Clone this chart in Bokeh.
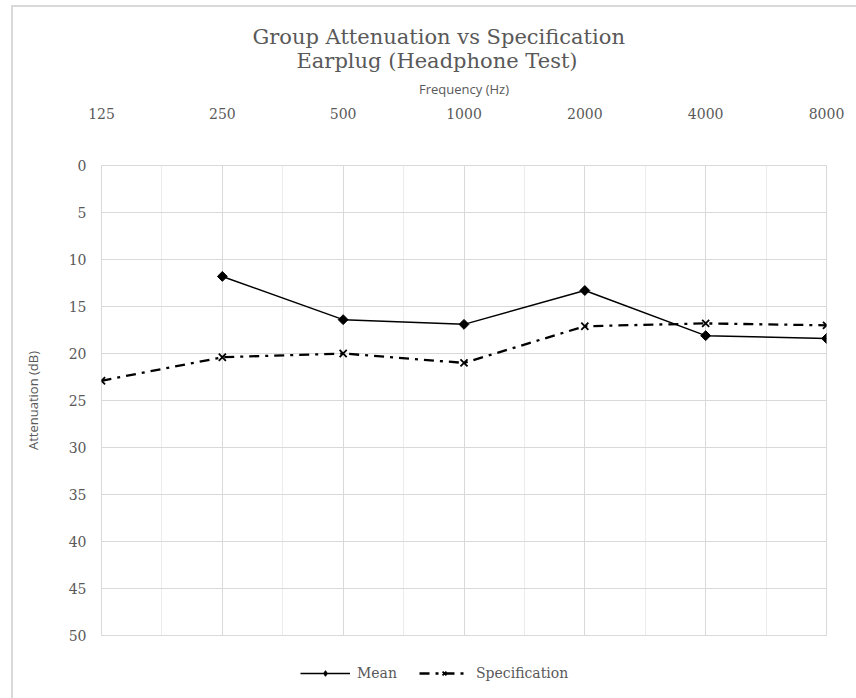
from bokeh.plotting import figure
from bokeh.layouts import column
from bokeh.models import (FixedTicker, Range1d, Legend, LegendItem, Title,
                          ColumnDataSource)
from bokeh.embed import file_html
from bokeh.resources import INLINE

# ---- data ----
freq_labels = ["125", "250", "500", "1000", "2000", "4000", "8000"]
mean_freqs = ["250", "500", "1000", "2000", "4000", "8000"]
mean_vals = [11.8, 16.4, 16.9, 13.3, 18.1, 18.4]
spec_freqs = ["125", "250", "500", "1000", "2000", "4000", "8000"]
spec_vals = [22.9, 20.4, 20.0, 21.0, 17.1, 16.8, 17.0]
y_ticks = [0, 5, 10, 15, 20, 25, 30, 35, 40, 45, 50]
title_lines = ["Group Attenuation vs Specification", "Earplug (Headphone Test)"]
series_names = ["Mean", "Specification"]

idx = {f: i for i, f in enumerate(freq_labels)}
mean_src = ColumnDataSource(dict(x=[idx[f] for f in mean_freqs], y=mean_vals))
spec_src = ColumnDataSource(dict(x=[idx[f] for f in spec_freqs], y=spec_vals))

SERIF = "DejaVu Serif"
SANS = "Open Sans"
GRAY = "#595959"

p = figure(width=856, height=650, output_backend="svg", toolbar_location=None,
           x_range=Range1d(0, len(freq_labels) - 1), y_range=Range1d(50, 0),
           x_axis_location="above",
           min_border_left=101, min_border_right=30,
           min_border_top=165, min_border_bottom=15)
p.background_fill_color = "white"
p.border_fill_color = None
p.outline_line_color = "#d9d9d9"
p.outline_line_width = 1

# x axis
xa = p.xaxis[0]
xa.ticker = FixedTicker(ticks=list(range(len(freq_labels))),
                        minor_ticks=[i + 0.5 for i in range(len(freq_labels) - 1)])
xa.major_label_overrides = {i: f for i, f in enumerate(freq_labels)}
xa.axis_label = "Frequency (Hz)"
xa.axis_label_text_font = SANS
xa.axis_label_text_font_style = "normal"
xa.axis_label_text_font_size = "13px"
xa.axis_label_text_color = GRAY
xa.axis_label_standoff = 7
xa.major_label_text_font = SERIF
xa.major_label_text_font_size = "14px"
xa.major_label_text_color = GRAY
xa.major_label_standoff = 41
xa.axis_line_color = None
xa.major_tick_line_color = None
xa.minor_tick_line_color = None

# y axis
ya = p.yaxis[0]
ya.ticker = FixedTicker(ticks=y_ticks)
ya.axis_label = "Attenuation (dB)"
ya.axis_label_text_font = SANS
ya.axis_label_text_font_style = "normal"
ya.axis_label_text_font_size = "13px"
ya.axis_label_text_color = GRAY
ya.axis_label_standoff = 24
ya.major_label_text_font = SERIF
ya.major_label_text_font_size = "14px"
ya.major_label_text_color = GRAY
ya.major_label_standoff = 9
ya.axis_line_color = None
ya.major_tick_line_color = None
ya.minor_tick_line_color = None

# grids
p.xgrid.grid_line_color = "#d9d9d9"
p.xgrid.minor_grid_line_color = "#ececec"
p.ygrid.grid_line_color = "#d9d9d9"

mean_style = dict(line_color="black", line_width=1.5)
mean_mark = dict(marker="square", size=7, angle=0.785398,
                 fill_color="black", line_color="black")
spec_style = dict(line_color="black", line_width=2.3, line_dash="10 6 3 6")
spec_mark = dict(marker="x", size=10, line_color="black", line_width=1.8)

# series
p.line("x", "y", source=mean_src, **mean_style)
p.scatter("x", "y", source=mean_src, **mean_mark)
p.line("x", "y", source=spec_src, **spec_style)
p.scatter("x", "y", source=spec_src, **spec_mark)

# title: two lines, each centred
p.title.text = title_lines[0]
p.title.align = "left"
p.title.offset = 151
p.title.text_font = SERIF
p.title.text_font_size = "21px"
p.title.text_font_style = "normal"
p.title.text_color = GRAY
p.title.standoff = -10
p.add_layout(Title(text=title_lines[1], align="left", offset=195,
                   text_font=SERIF, text_font_size="21px",
                   text_font_style="normal", text_color=GRAY, standoff=7), "above")

# legend strip below the chart (same series styles, data kept out of view)
lg = figure(width=856, height=48, output_backend="svg", toolbar_location=None,
            x_range=Range1d(100, 101), y_range=Range1d(100, 101),
            min_border=0)
lg.axis.visible = False
lg.grid.visible = False
lg.outline_line_color = None
lg.background_fill_color = None
lg.border_fill_color = None
lr1 = lg.line("x", "y", source=mean_src, **mean_style)
lm1 = lg.scatter("x", "y", source=mean_src, marker="diamond", size=10,
                 fill_color="black", line_color="black")
lr2 = lg.line("x", "y", source=spec_src, **spec_style)
lm2 = lg.scatter("x", "y", source=spec_src, **spec_mark)
legend = Legend(items=[LegendItem(label=series_names[0], renderers=[lr1, lm1]),
                       LegendItem(label=series_names[1], renderers=[lr2, lm2])],
                orientation="horizontal", location=(199, 17),
                glyph_width=50, glyph_height=14, label_standoff=7, spacing=22,
                label_text_font=SERIF, label_text_font_size="14px",
                label_text_color=GRAY, border_line_color=None,
                background_fill_alpha=0, padding=0, margin=0)
lg.add_layout(legend)

layout = column(p, lg, spacing=0)
# thin light-grey chart border (top and left edges), drawn as a CSS background
layout.styles = {
    "background-color": "white",
    "background-image": "linear-gradient(#d9d9d9, #d9d9d9), linear-gradient(#d9d9d9, #d9d9d9)",
    "background-size": "2px 100%, 100% 2px",
    "background-position": "11px 5px, 11px 5px",
    "background-repeat": "no-repeat",
}
open("out.html", "w").write(file_html(layout, INLINE))
